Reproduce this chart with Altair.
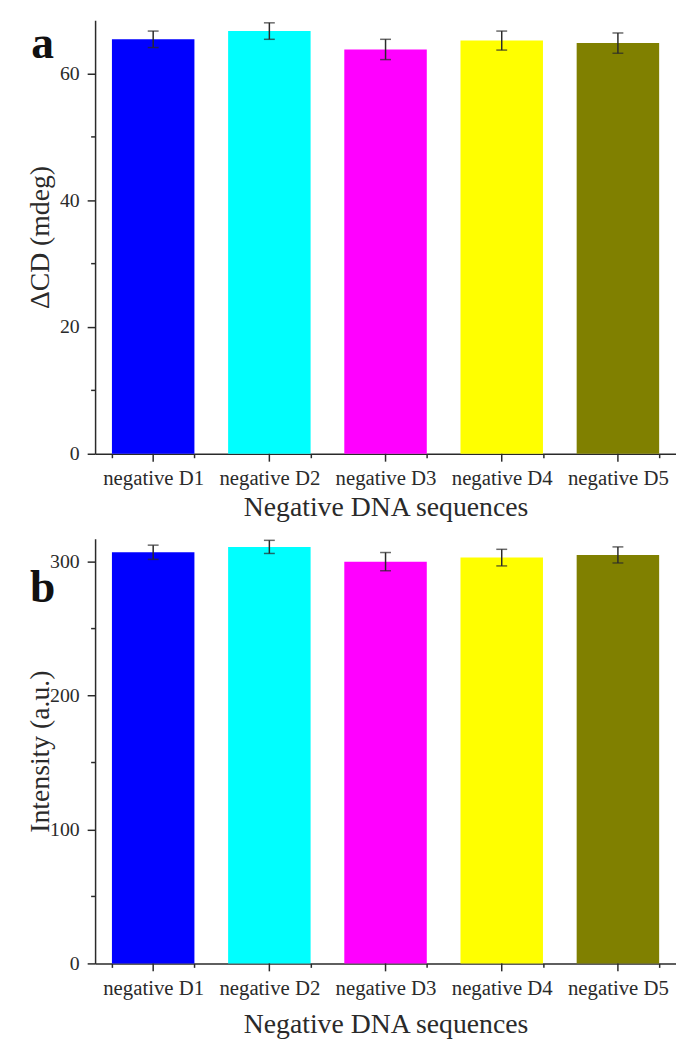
import altair as alt
import pandas as pd

labels = ["negative D1", "negative D2", "negative D3", "negative D4", "negative D5"]
colors = ["#0000FF", "#00FFFF", "#FF00FF", "#FFFF00", "#808000"]

cd_values = [65.4, 66.7, 63.8, 65.2, 64.8]
cd_errors = [1.3, 1.3, 1.6, 1.5, 1.6]
cd_major = [0, 20, 40, 60]
cd_minor = [10, 30, 50]

int_values = [307, 311, 300, 303, 305]
int_errors = [5.3, 4.9, 6.8, 6.2, 6.0]
int_major = [0, 100, 200, 300]
int_minor = [50, 150, 250]

FONT = "Liberation Serif"
INK = "#2a2a2a"
W = 587


def panel(values, errors, major, minor, ymax, height, ytitle, letter, letter_y, xtitle_pad):
    df = pd.DataFrame({"seq": labels, "value": values, "err": errors, "color": colors})
    yscale = alt.Scale(domain=[0, ymax], nice=False, zero=True)
    xscale = alt.Scale(domain=labels, paddingInner=0.29, paddingOuter=0.145)
    x = alt.X(
        "seq:N", sort=labels, scale=xscale, title="Negative DNA sequences",
        axis=alt.Axis(tickBand="extent", tickSize=4, labelAngle=0, labelFontSize=21,
                      labelPadding=10, titleFontSize=28, titlePadding=xtitle_pad,
                      domainColor=INK, tickColor=INK, domainWidth=1.5, tickWidth=1.5),
    )
    y = alt.Y(
        "value:Q", scale=yscale, title=ytitle,
        axis=alt.Axis(values=major, tickSize=8, labelFontSize=20, labelPadding=8,
                      titleFontSize=28, titleX=-47, titleY=height / 2, titleAngle=-90,
                      titleAlign="center", titleBaseline="alphabetic", grid=False,
                      domainColor=INK, tickColor=INK, domainWidth=1.5, tickWidth=1.5),
    )
    base = alt.Chart(df)
    bars = base.mark_bar().encode(x=x, y=y, color=alt.Color("color:N", scale=None))
    err = base.transform_calculate(
        lo="datum.value - datum.err", hi="datum.value + datum.err"
    ).mark_errorbar(
        ticks={"size": 11, "thickness": 1.5, "color": INK}, thickness=1.5, color=INK
    ).encode(
        x=alt.X("seq:N", sort=labels, scale=xscale),
        y=alt.Y("lo:Q", scale=yscale, title=ytitle),
        y2="hi:Q",
    )
    xmajor = base.mark_rule(color=INK, strokeWidth=1.5).encode(
        x=alt.X("seq:N", sort=labels, scale=xscale),
        y=alt.value(height), y2=alt.value(height + 8),
    )
    yminor = alt.Chart(pd.DataFrame({"v": minor})).mark_rule(color=INK, strokeWidth=1.5).encode(
        y=alt.Y("v:Q", scale=yscale, title=ytitle), x=alt.value(0), x2=alt.value(-4),
    )
    tag = alt.Chart(pd.DataFrame({"t": [letter]})).mark_text(
        font=FONT, fontWeight="bold", fontSize=46, align="center", baseline="alphabetic", color="#111"
    ).encode(text="t:N", x=alt.value(-53), y=alt.value(letter_y))
    return alt.layer(bars, err, xmajor, yminor, tag).properties(width=W, height=height)


a = panel(cd_values, cd_errors, cd_major, cd_minor, 68.4, 438, "ΔCD (mdeg)", "a", 38, 5)
b = panel(int_values, int_errors, int_major, int_minor, 317, 429, "Intensity (a.u.)", "b", 64, 13)

chart = alt.vconcat(a, b, spacing=86, bounds="flush").properties(
    padding={"left": 19, "top": 7, "right": 0, "bottom": 0}
).configure_view(stroke=None).configure_axis(
    labelFont=FONT, titleFont=FONT, labelColor=INK, titleColor=INK,
    titleFontWeight="normal",
).configure_text(font=FONT)

chart.save("out.html", embed_options={"renderer": "svg", "actions": False})
